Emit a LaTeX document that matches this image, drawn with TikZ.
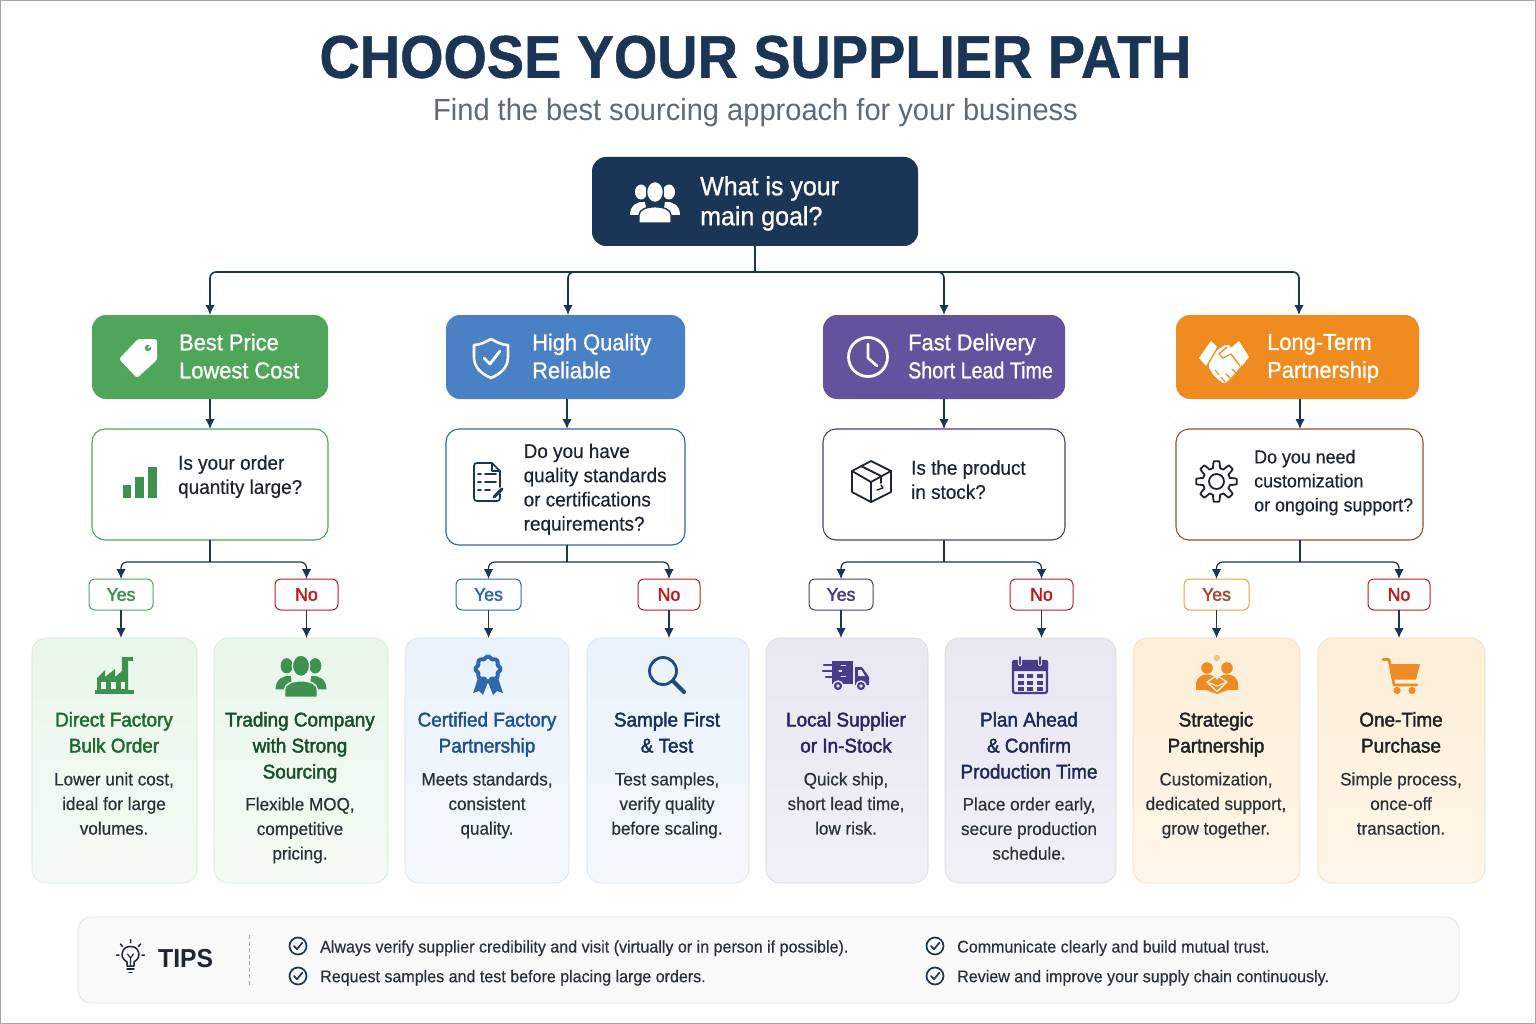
\documentclass[tikz,border=0pt]{standalone}
\usepackage{fontspec}
\usepackage{graphicx}
\usetikzlibrary{arrows.meta,calc}
\setmainfont{Liberation Sans}[FakeStretch=0.95]
\newfontfamily\regf{Liberation Sans}[FakeStretch=0.95,FakeBold=0.4]
\newfontfamily\medf{Liberation Sans}[FakeStretch=0.95,FakeBold=1.0]
\newfontfamily\semif{Liberation Sans}[FakeStretch=0.95,FakeBold=2.0]
\newfontfamily\ttlf{Liberation Sans}[BoldFont={Liberation Sans Bold},BoldFeatures={FakeBold=0.8},FakeStretch=0.925]
\definecolor{navy}{HTML}{1B3556}
\definecolor{hgreen}{HTML}{4FA65B}
\definecolor{hblue}{HTML}{4A80C4}
\definecolor{hpurple}{HTML}{65529E}
\definecolor{horange}{HTML}{F08C1F}
\definecolor{igreen}{HTML}{3F9150}
\definecolor{iblue}{HTML}{2F68AE}
\definecolor{inavy}{HTML}{1F4A80}
\definecolor{ipurple}{HTML}{4A3C8C}
\definecolor{iorange}{HTML}{EE8B22}
\definecolor{qbrown}{HTML}{9A4F32}
\definecolor{nored}{HTML}{C01C1C}
\definecolor{yorange}{HTML}{E8A23A}
\definecolor{ink}{HTML}{1C2530}
\definecolor{desc}{HTML}{2B3138}
\definecolor{subt}{HTML}{5E6A75}
\definecolor{gA}{HTML}{E9F6EA}\definecolor{gB}{HTML}{F4FBF4}
\definecolor{bA}{HTML}{E9F2FB}\definecolor{bB}{HTML}{F4F8FD}
\definecolor{pA}{HTML}{E8E7F2}\definecolor{pB}{HTML}{F1F0F8}
\definecolor{oA}{HTML}{FDEED7}\definecolor{oB}{HTML}{FEF6E9}
\definecolor{t1}{HTML}{1D6B2E}\definecolor{t2}{HTML}{17502B}
\definecolor{t3}{HTML}{1E5297}\definecolor{t4}{HTML}{1A2F5A}
\definecolor{t5}{HTML}{2B2465}\definecolor{t6}{HTML}{1D2A5A}
\definecolor{t7}{HTML}{1F2226}
\newcommand\fz[2]{\fontsize{#1}{#2}\selectfont}
\tikzset{
  x=1pt,y=-1pt,
  box/.style={rounded corners=#1,inner sep=0pt,outer sep=0pt,anchor=center},
  goalbox/.style={box=14,fill=navy},
  headbox/.style={box=14,fill=#1},
  qbox/.style={box=13,draw=#1,line width=1.1pt,fill=white},
  tagbox/.style={box=6,draw=#1,line width=1pt,fill=white,minimum height=31pt},
  cardbox/.style 2 args={box=14,top color=#1,bottom color=#2,draw=#1!85!gray,line width=.6pt,minimum height=245pt},
  conn/.style={draw=navy,line width=1.6pt,rounded corners=6pt},
  arr/.style={conn,-{Latex[length=10pt,width=9.5pt]}},
  thin conn/.style={line width=1.25pt},
  struts/.style={yshift=-3.2pt,execute at begin node=\strut,execute at end node=\strut},
  headtxt/.style={anchor=west,inner sep=0pt,text=white,align=left,struts,font=\medf\fz{23}{28}},
  qtxt/.style={anchor=west,inner sep=0pt,text=ink,align=left,struts,font=\regf\fz{19.9}{24.2}},
  tagtxt/.style={inner sep=0pt,font=\semif\fz{18.6}{20},text=#1},
  ctitle/.style={inner sep=0pt,align=center,struts,text=#1,font=\semif\fz{19.9}{26}},
  cdesc/.style={inner sep=0pt,align=center,struts,text=desc,font=\regf\fz{18}{24.6}},
  tiptxt/.style={anchor=west,inner sep=0pt,struts,text=desc,font=\regf\fz{16.9}{20}},
}
\newcommand\chk[2]{%
  \draw[navy,line width=1.7pt] (#1,#2) circle (8.5);
  \draw[navy,line width=1.7pt,line cap=round,line join=round] (#1-4,#2) -- (#1-1,#2+3.2) -- (#1+4.4,#2-3.4);}
% three-person icon: x, y, scale, colour, background
\newcommand\people[5]{%
  \begin{scope}[shift={(#1,#2)},scale=#3]
    \fill[#4] (-14,-10) ellipse (6 and 7.5);
    \fill[#4] (14,-10) ellipse (6 and 7.5);
    \fill[#4] (-25,13) .. controls (-25,3) and (-17,-1) .. (-10,0) -- (-8,13) -- cycle;
    \fill[#4] (25,13) .. controls (25,3) and (17,-1) .. (10,0) -- (8,13) -- cycle;
    \fill[#4,draw=#5,line width=1.4pt] (0,-10) ellipse (8.5 and 10.5);
    \fill[#4,draw=#5,line width=1.4pt] (-16,21) -- (-16,13) .. controls (-16,2) and (16,2) .. (16,13) -- (16,21) -- cycle;
  \end{scope}}
\begin{document}
\begin{tikzpicture}
\useasboundingbox (0,0) rectangle (1536,1024);
\fill[white] (0,0) rectangle (1536,1024);
\draw[gray!70,line width=1pt] (.5,.5) rectangle (1535.5,1023.5);

% titles
\node[inner sep=0pt,text=navy,font=\ttlf\bfseries\fz{60.3}{66}] (title) at (755.5,57) {CHOOSE YOUR SUPPLIER PATH};
\node[inner sep=0pt,text=subt,font=\fz{30.6}{32}] (subtitle) at (755.5,112.5) {Find the best sourcing approach for your business};

% root
\node[goalbox,minimum width=326pt,minimum height=89pt] (goal) at (755,201.5) {};
\node[headtxt,font=\medf\fz{26.3}{30}] (goaltxt) at (700,202) {What is your\\main goal?};
\people{655}{202}{1}{white}{navy}

% headers
\node[headbox=hgreen,minimum width=236pt,minimum height=84pt] (h1) at (210,357) {};
\node[headbox=hblue,minimum width=239pt,minimum height=84pt] (h2) at (565.5,357) {};
\node[headbox=hpurple,minimum width=242pt,minimum height=84pt] (h3) at (944,357) {};
\node[headbox=horange,minimum width=243pt,minimum height=84pt] (h4) at (1297.5,357) {};
\node[headtxt] (h1t) at (179,357) {Best Price\\Lowest Cost};
\node[headtxt] (h2t) at (532,357) {High Quality\\Reliable};
\node[headtxt] (h3t) at (908,357) {Fast Delivery\\\scalebox{.9}[1]{Short Lead Time}};
\node[headtxt] (h4t) at (1267,357) {Long-Term\\Partnership};

% questions
\node[qbox=hgreen,minimum width=236pt,minimum height=111pt] (q1) at (210,484.5) {};
\node[qbox=iblue,minimum width=239pt,minimum height=116pt] (q2) at (565.5,487) {};
\node[qbox=ipurple,minimum width=242pt,minimum height=111pt] (q3) at (944,484.5) {};
\node[qbox=qbrown,minimum width=247pt,minimum height=111pt] (q4) at (1299.5,484.5) {};
\node[qtxt] (q1t) at (178,475) {Is your order\\quantity large?};
\node[qtxt] (q2t) at (523.5,487.5) {Do you have\\quality standards\\or certifications\\requirements?};
\node[qtxt] (q3t) at (911,480) {Is the product\\in stock?};
\node[qtxt,font=\regf\fz{18.8}{24}] (q4t) at (1254,481) {Do you need\\customization\\or ongoing support?};

% yes / no
\node[tagbox=hgreen,minimum width=64pt] (y1) at (121,594.5) {};
\node[tagbox=nored,minimum width=63pt] (n1) at (306.5,594.5) {};
\node[tagbox=iblue,minimum width=65pt] (y2) at (488.5,594.5) {};
\node[tagbox=nored,minimum width=62pt] (n2) at (669,594.5) {};
\node[tagbox=ipurple,minimum width=64pt] (y3) at (841,594.5) {};
\node[tagbox=nored,minimum width=63pt] (n3) at (1041.5,594.5) {};
\node[tagbox=yorange,minimum width=65pt] (y4) at (1216.5,594.5) {};
\node[tagbox=nored,minimum width=62pt] (n4) at (1399,594.5) {};
\foreach \n/\c/\t in {y1/igreen/Yes,n1/nored/No,y2/iblue/Yes,n2/nored/No,y3/ipurple/Yes,n3/nored/No,y4/qbrown/Yes,n4/nored/No}{
  \node[tagtxt=\c] (\n t) at (\n) {\t};}

% cards
\node[cardbox={gA}{gB},minimum width=165pt] (c1) at (114.5,760.5) {};
\node[cardbox={gA}{gB},minimum width=174pt] (c2) at (301,760.5) {};
\node[cardbox={bA}{bB},minimum width=164pt] (c3) at (487,760.5) {};
\node[cardbox={bA}{bB},minimum width=162pt] (c4) at (668,760.5) {};
\node[cardbox={pA}{pB},minimum width=162pt] (c5) at (847,760.5) {};
\node[cardbox={pA}{pB},minimum width=171pt] (c6) at (1030.5,760.5) {};
\node[cardbox={oA}{oB},minimum width=167pt] (c7) at (1216.5,760.5) {};
\node[cardbox={oA}{oB},minimum width=167pt] (c8) at (1401.5,760.5) {};

\node[ctitle=t1] (c1t) at (114,733) {Direct Factory\\Bulk Order};
\node[cdesc] (c1d) at (114,804) {Lower unit cost,\\ideal for large\\volumes.};
\node[ctitle=t2] (c2t) at (300,746) {Trading Company\\with Strong\\Sourcing};
\node[cdesc] (c2d) at (300,829) {Flexible MOQ,\\competitive\\pricing.};
\node[ctitle=t3] (c3t) at (487,733) {Certified Factory\\Partnership};
\node[cdesc] (c3d) at (487,804) {Meets standards,\\consistent\\quality.};
\node[ctitle=t4] (c4t) at (667,733) {Sample First\\\& Test};
\node[cdesc] (c4d) at (667,804) {Test samples,\\verify quality\\before scaling.};
\node[ctitle=t5] (c5t) at (846,733) {Local Supplier\\or In-Stock};
\node[cdesc] (c5d) at (846,804) {Quick ship,\\short lead time,\\low risk.};
\node[ctitle=t6] (c6t) at (1029,746) {Plan Ahead\\\& Confirm\\Production Time};
\node[cdesc] (c6d) at (1029,829) {Place order early,\\secure production\\schedule.};
\node[ctitle=t7] (c7t) at (1216,733) {Strategic\\Partnership};
\node[cdesc] (c7d) at (1216,804) {Customization,\\dedicated support,\\grow together.};
\node[ctitle=t7] (c8t) at (1401,733) {One-Time\\Purchase};
\node[cdesc] (c8d) at (1401,804) {Simple process,\\once-off\\transaction.};

% tips
\node[box=13,fill=black!2.5,draw=black!11,line width=.8pt,minimum width=1381pt,minimum height=86pt] (tips) at (768.5,960) {};
\node[anchor=west,inner sep=0pt,text=ink,font=\bfseries\fz{26}{30}] (tipst) at (158,958.5) {TIPS};
\coordinate (sepT) at (249,935);
\coordinate (sepB) at (249,986);
\draw[black!35,line width=1pt,dash pattern=on 4pt off 2.5pt] (sepT) -- (sepB);
\node[tiptxt] (tip1) at (320,945.3) {Always verify supplier credibility and visit (virtually or in person if possible).};
\node[tiptxt] (tip2) at (320,975) {Request samples and test before placing large orders.};
\node[tiptxt] (tip3) at (957,945.3) {Communicate clearly and build mutual trust.};
\node[tiptxt] (tip4) at (957,975) {Review and improve your supply chain continuously.};
\chk{298}{946}\chk{298}{976}\chk{935}{946}\chk{935}{976}
% bulb
\begin{scope}[ink,line width=1.5pt,line cap=round,line join=round]
  \draw (127,966) -- (127,962) .. controls (122,959) and (121.5,955) .. (122.5,952) .. controls (124,947) and (128,946.5) .. (130.5,946.5) .. controls (133,946.5) and (137,947) .. (138.5,952) .. controls (139.5,955) and (139,959) .. (134,962) -- (134,966) -- cycle;
  \draw[line width=1.2pt] (127.5,954) -- (130.5,958) -- (133.5,954) (130.5,958) -- (130.5,965);
  \draw (127,969) -- (134,969) (129,972.5) -- (132,972.5);
  \draw (130.5,939.5) -- (130.5,942.5) (120.5,944) -- (122.5,946.5) (140.5,944) -- (138.5,946.5) (116.5,955) -- (119,955) (144.5,955) -- (142,955);
\end{scope}

% connectors
\coordinate (bus) at (755,272);
\coordinate (in1) at (210,272);
\coordinate (in2) at (568,272);
\coordinate (in3) at (944,272);
\coordinate (in4) at (1299,272);
\coordinate (col1) at (210,0);
\coordinate (col2) at (567,0);
\coordinate (col3) at (944,0);
\coordinate (col4) at (1300,0);
\draw[conn] (goal.south) -- (bus);
\draw[arr] (bus) -| (in1 |- h1.north);
\draw[arr] (bus) -| (in2 |- h2.north);
\draw[arr] (bus) -| (in3 |- h3.north);
\draw[arr] (bus) -| (in4 |- h4.north);
\foreach \i in {1,2,3,4}{
  \draw[arr] (col\i |- h\i.south) -- (col\i |- q\i.north);
  \coordinate (fork\i) at (col\i |- 0,562);
  \draw[conn,thin conn] (col\i |- q\i.south) -- (fork\i);
  \draw[arr,thin conn] (fork\i) -| (y\i.north);
  \draw[arr,thin conn] (fork\i) -| (n\i.north);
}
\draw[arr,thin conn] (y1.south) -- (y1.south |- c1.north);
\draw[arr,thin conn] (n1.south) -- (n1.south |- c2.north);
\draw[arr,thin conn] (y2.south) -- (y2.south |- c3.north);
\draw[arr,thin conn] (n2.south) -- (n2.south |- c4.north);
\draw[arr,thin conn] (y3.south) -- (y3.south |- c5.north);
\draw[arr,thin conn] (n3.south) -- (n3.south |- c6.north);
\draw[arr,thin conn] (y4.south) -- (y4.south |- c7.north);
\draw[arr,thin conn] (n4.south) -- (n4.south |- c8.north);

% --- header icons ---
\fill[white,rounded corners=2.5pt] (119,359) -- (138,339) -- (157,339) -- (157,360) -- (137,378) -- cycle;
\fill[hgreen] (148,348) circle (3.2);
\draw[white,line width=1.2pt] (148,348) -- (155,342);

\draw[white,line width=2.6pt,line join=round] (491,339) .. controls (484,343) and (479,345) .. (474,345) -- (474,357) .. controls (474,368) and (482,374) .. (491,378) .. controls (500,374) and (508,368) .. (508,357) -- (508,345) .. controls (503,345) and (498,343) .. (491,339) -- cycle;
\draw[white,line width=2.8pt,line join=round,line cap=round] (484,358) -- (490,364) -- (500,351);

\draw[white,line width=2.8pt] (868,357) circle (19.5);
\draw[white,line width=2.6pt,line cap=round,line join=round] (868,344) -- (868,358) -- (877,366);

\fill[white] (1211,341) -- (1217,347) -- (1206,366) -- (1199,358) -- cycle;
\fill[white] (1239,341) -- (1249,357) -- (1242,366) -- (1232,347) -- cycle;
\fill[white,rounded corners=2pt] (1217,350) -- (1227,344) -- (1236,351) -- (1242,365) -- (1230,379) -- (1224,384) -- (1214,376) -- (1208,366) -- cycle;
\draw[horange,line width=1.3pt,line cap=round,line join=round] (1227,347) -- (1219,354) -- (1223,358) -- (1231,354) -- (1240,366);
\draw[horange,line width=1.1pt,line cap=round] (1226,374) -- (1231,379) (1221,377) -- (1225,382) (1232,369) -- (1236,373) (1215,370) -- (1219,375);

% --- question icons ---
\fill[igreen] (122.5,485) rectangle (131,498);
\fill[igreen] (135,477) rectangle (144,498);
\fill[igreen] (148,467) rectangle (157,498);

\begin{scope}[navy,line width=1.7pt,line join=round,line cap=round]
  \draw (492,463) -- (477,463) .. controls (475,463) and (474,464) .. (474,466) -- (474,498) .. controls (474,500) and (475,501) .. (477,501) -- (497,501) .. controls (499,501) and (500,500) .. (500,498) -- (500,494);
  \draw (500,487) -- (500,471) -- (492,463) -- (492,471) -- (500,471);
  \draw (478,474) -- (481,474) (485,474) -- (496,474);
  \draw (478,482) -- (481,482) (485,482) -- (496,482);
  \draw (478,490) -- (481,490) (485,490) -- (490,490);
  \draw[line width=3pt] (494,497) -- (502,489);
\end{scope}

\begin{scope}[ink,line width=1.8pt,line join=round,line cap=round]
  \draw (871,461) -- (891,471) -- (891,492) -- (871,502) -- (852,492) -- (852,471) -- cycle;
  \draw (852,471) -- (871,482) -- (891,471) (871,482) -- (871,502);
  \draw (861,466) -- (881,476) -- (881,483);
  \draw[line width=1.3pt] (877,490) -- (883,488) -- (881,485);
\end{scope}

\begin{scope}[shift={(1216.5,481.5)},ink,line width=1.8pt,line join=round]
  \draw plot[domain=0:360,samples=193,smooth] (\x:{17+3.3*min(1,max(-1,2.2*cos(8*\x)))}) -- cycle;
  \draw (0,0) circle (7.5);
\end{scope}

% --- card icons ---
\begin{scope}[igreen]
  \fill (95,690) rectangle (134,694);
  \fill (97,690) -- (97,678) -- (105,670) -- (105,677) -- (115,669) -- (115,677) -- (122,671) -- (122,657) -- (128,657) -- (128,690) -- cycle;
  \fill (122,656.5) rectangle (133,661);
  \fill[gA] (101,682) rectangle (106,689);
  \fill[gA] (111,682) rectangle (116,689);
  \fill[gA] (121,682) rectangle (125,689);
\end{scope}
\people{301}{676}{1.02}{igreen}{gA}

% award
\fill[iblue] (478,678) -- (473,693) -- (479,691) -- (483,695) -- (488,682) -- cycle;
\fill[iblue] (498,678) -- (503,693) -- (497,691) -- (493,695) -- (488,682) -- cycle;
\begin{scope}[shift={(488,669)}]
  \draw[iblue,fill=bA,line width=4pt,line join=round] plot[domain=0:360,samples=97,smooth] (\x:{11.5+1*cos(8*\x)}) -- cycle;
\end{scope}

% magnifier
\draw[inavy,line width=2.8pt] (663,671) circle (13.5);
\draw[inavy,line width=4.2pt,line cap=round] (673,681) -- (684,692);

% truck
\begin{scope}[ipurple]
  \fill (832,661) rectangle (853,684);
  \fill (855,667) -- (862,667) -- (869,677) -- (869,685) -- (855,685) -- cycle;
  \fill[pA] (858,670) -- (861.5,670) -- (865,676) -- (858,676) -- cycle;
  \draw[pA,line width=1.4pt] (824,665.5) -- (846,665.5) (824,671) -- (842,671) (826,676.5) -- (846,676.5);
  \draw[ipurple,line width=2.4pt,line cap=round] (824,665) -- (840,665) (823,671) -- (838,671) (826,677) -- (840,677);
  \fill[ipurple,draw=pA,line width=1.4pt] (838,686) circle (5);
  \fill[ipurple,draw=pA,line width=1.4pt] (861,686) circle (5);
  \fill[pA] (838,686) circle (1.8);
  \fill[pA] (861,686) circle (1.8);
\end{scope}

% calendar
\begin{scope}[ipurple]
  \fill[rounded corners=2pt] (1012,660) rectangle (1048,671);
  \draw[line width=2.2pt,rounded corners=2pt] (1013,661) rectangle (1047,693);
  \draw[pA,line width=4pt,line cap=round] (1020,657) -- (1020,664) (1040,657) -- (1040,664);
  \draw[ipurple,line width=2pt,line cap=round] (1020,657) -- (1020,664) (1040,657) -- (1040,664);
  \foreach \yy in {674,680.5,687}{\foreach \xx in {1017.5,1027,1036.5}{\fill (\xx,\yy) rectangle (\xx+6,\yy+4);}}
\end{scope}

% strategic partnership
\begin{scope}[iorange]
  \fill[iorange!55] (1217,658) circle (3.2);
  \fill (1207,668) circle (5.8);
  \fill (1227,668) circle (5.8);
  \fill (1196,690) -- (1196,685) .. controls (1196,677) and (1202,674.5) .. (1207,674.5) .. controls (1212,674.5) and (1215,677) .. (1217,680) .. controls (1219,677) and (1222,674.5) .. (1227,674.5) .. controls (1232,674.5) and (1238,677) .. (1238,685) -- (1238,690) -- (1228,690) -- (1217,694) -- (1206,690) -- cycle;
  \draw[oA,line width=1.4pt,line join=round] (1207,682) -- (1217,675.5) -- (1227,682) -- (1217,691.5) -- cycle;
  \draw[oA,line width=1.2pt,line join=round] (1207,682) -- (1217,686) -- (1227,682);
\end{scope}

% cart
\begin{scope}[iorange]
  \draw[line width=2.6pt,line join=round,line cap=round] (1383,659.5) -- (1389,659.5) -- (1394,685) -- (1417,685);
  \fill (1390.5,664) -- (1420,664) -- (1416,679.5) -- (1393.5,679.5) -- cycle;
  \fill (1397,690.5) circle (3.6);
  \fill (1412,690.5) circle (3.6);
\end{scope}
\end{tikzpicture}
\end{document}
